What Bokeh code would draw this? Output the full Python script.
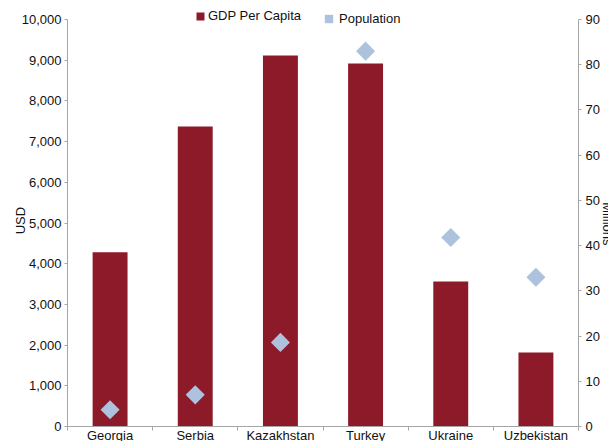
import numpy as np
from bokeh.plotting import figure
from bokeh.models import (ColumnDataSource, Range1d, LinearAxis, FixedTicker,
                          NumeralTickFormatter, Legend, LegendItem, Label)
from bokeh.embed import file_html
from bokeh.resources import INLINE

countries = ["Georgia", "Serbia", "Kazakhstan", "Turkey", "Ukraine", "Uzbekistan"]
gdp_per_capita = [4280, 7370, 9115, 8920, 3560, 1820]
population_mn = [3.7, 7.0, 18.6, 83.0, 41.8, 33.0]
usd_ticks = list(range(0, 10001, 1000))
mn_ticks = list(range(0, 91, 10))
usd_max, mn_max = 10000, 90

# layout (pixels): plot area inside the 608x441 canvas
W, H = 608, 441
LEFT, RIGHT, TOP, BOTTOM = 67, 578, 19, 426

FONT = "Liberation Sans"
FS = "13px"
BAR = "#8C1A28"
DIA = "#ADC2DD"
AXIS = "#A6A6A6"
TXT = "#111111"

n = len(countries)
xpos = np.arange(n) + 0.5
src = ColumnDataSource(dict(x=xpos, country=countries, gdp=gdp_per_capita, pop=population_mn))

cat_px = (RIGHT - LEFT) / n
x_range = Range1d(-LEFT / cat_px, n + (W - RIGHT) / cat_px)
usd_px = usd_max / (BOTTOM - TOP)
mn_px = mn_max / (BOTTOM - TOP)
y_range = Range1d(-(H - BOTTOM) * usd_px, usd_max + TOP * usd_px)
pop_range = Range1d(-(H - BOTTOM) * mn_px, mn_max + TOP * mn_px)

p = figure(width=W, height=H, x_range=x_range, y_range=y_range, title=None,
           output_backend="svg", toolbar_location=None, x_axis_type=None, y_axis_type=None,
           min_border=0, min_border_left=0, min_border_right=0,
           min_border_top=0, min_border_bottom=0)
p.extra_y_ranges = {"pop": pop_range}
p.xgrid.visible = False
p.ygrid.visible = False
p.outline_line_color = None
p.background_fill_color = "white"
p.border_fill_color = "white"

# category axis: labels at centres, tick marks at category boundaries
xa = LinearAxis(fixed_location=0, bounds=(0, n),
                ticker=FixedTicker(ticks=list(xpos), minor_ticks=list(range(n + 1))),
                major_label_overrides={float(v): c for v, c in zip(xpos, countries)})
xa.major_tick_out = 0
xa.major_tick_in = 0
xa.minor_tick_out = 4
xa.minor_tick_in = 0
xa.minor_tick_line_color = AXIS
xa.axis_line_color = AXIS
xa.major_label_standoff = -3
xa.major_label_text_font = FONT
xa.major_label_text_font_size = FS
xa.major_label_text_color = TXT
p.add_layout(xa, "below")

ya = LinearAxis(fixed_location=0, bounds=(0, usd_max),
                ticker=FixedTicker(ticks=usd_ticks, minor_ticks=[]),
                formatter=NumeralTickFormatter(format="0,0"))
ry = LinearAxis(fixed_location=n, bounds=(0, mn_max), y_range_name="pop",
                ticker=FixedTicker(ticks=mn_ticks, minor_ticks=[]))
for ax in (ya, ry):
    ax.major_tick_out = 3
    ax.major_tick_in = 0
    ax.minor_tick_line_color = None
    ax.axis_line_color = AXIS
    ax.major_tick_line_color = AXIS
    ax.major_label_text_font = FONT
    ax.major_label_text_font_size = FS
    ax.major_label_text_color = TXT
ya.major_label_standoff = 3
ry.major_label_standoff = 4
p.add_layout(ya, "left")
p.add_layout(ry, "right")

bars = p.vbar(x="x", top="gdp", width=0.41, source=src, fill_color=BAR, line_color=None)
dots = p.scatter(x="x", y="pop", y_range_name="pop", source=src, marker="square",
                 size=13.5, angle=np.pi / 4, fill_color=DIA, line_color=None)

p.add_layout(Label(x=-0.55, y=5060, text="USD", angle=np.pi / 2, text_align="center",
                   text_baseline="middle", text_font=FONT, text_font_size=FS, text_color=TXT))
p.add_layout(Label(x=n + 0.34, y=4980, text="Millions", angle=-np.pi / 2, text_align="center",
                   text_baseline="middle", text_font=FONT, text_font_size=FS, text_color=TXT))

leg1 = Legend(items=[LegendItem(label="GDP Per Capita", renderers=[bars])],
              location=(195, H - 23), orientation="horizontal", padding=0, margin=0,
              glyph_width=10, glyph_height=10, label_height=10, label_standoff=3,
              border_line_color=None, background_fill_alpha=0,
              label_text_font=FONT, label_text_font_size=FS, label_text_color=TXT)
leg2 = Legend(items=[LegendItem(label="Population", renderers=[dots])],
              location=(318, H - 29), orientation="horizontal", padding=0, margin=0,
              glyph_width=21, glyph_height=21, label_height=21, label_standoff=0,
              border_line_color=None, background_fill_alpha=0,
              label_text_font=FONT, label_text_font_size=FS, label_text_color=TXT)
p.add_layout(leg1)
p.add_layout(leg2)

open("out.html", "w").write(file_html(p, INLINE))
